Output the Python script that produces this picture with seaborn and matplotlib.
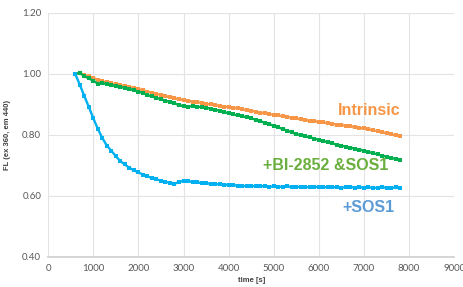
import matplotlib
matplotlib.use("Agg")
import matplotlib.pyplot as plt
import seaborn as sns
import pandas as pd

# sampling times (s), one reading every 100 s
time_s = list(range(600, 7900, 100))

intrinsic = [
    1.000, 1.003, 0.996, 0.992, 0.987, 0.981, 0.976, 0.972, 0.969, 0.966,
    0.963, 0.960, 0.957, 0.954, 0.950, 0.946, 0.942, 0.938, 0.934, 0.931,
    0.927, 0.924, 0.920, 0.917, 0.915, 0.912, 0.909, 0.907, 0.905, 0.902,
    0.900, 0.898, 0.895, 0.893, 0.891, 0.889, 0.887, 0.884, 0.881, 0.879,
    0.876, 0.873, 0.871, 0.868, 0.866, 0.864, 0.861, 0.859, 0.856, 0.854,
    0.851, 0.849, 0.846, 0.845, 0.843, 0.841, 0.838, 0.836, 0.834, 0.832,
    0.830, 0.828, 0.826, 0.823, 0.821, 0.818, 0.815, 0.812, 0.809, 0.805,
    0.802, 0.798, 0.795,
]

bi2852_sos1 = [
    1.000, 1.003, 0.993, 0.985, 0.978, 0.968, 0.970, 0.966, 0.963, 0.960,
    0.957, 0.954, 0.951, 0.946, 0.942, 0.937, 0.931, 0.926, 0.921, 0.917,
    0.912, 0.908, 0.903, 0.898, 0.894, 0.893, 0.894, 0.893, 0.891, 0.889,
    0.886, 0.883, 0.879, 0.875, 0.871, 0.867, 0.864, 0.861, 0.858, 0.854,
    0.850, 0.845, 0.840, 0.835, 0.830, 0.825, 0.819, 0.814, 0.808, 0.803,
    0.799, 0.795, 0.792, 0.788, 0.784, 0.780, 0.776, 0.772, 0.768, 0.765,
    0.761, 0.758, 0.755, 0.752, 0.748, 0.744, 0.740, 0.736, 0.732, 0.729,
    0.725, 0.721, 0.718,
]

sos1 = [
    1.000, 0.965, 0.928, 0.892, 0.855, 0.820, 0.790, 0.765, 0.748, 0.730,
    0.714, 0.703, 0.692, 0.684, 0.677, 0.670, 0.664, 0.659, 0.654, 0.650,
    0.646, 0.643, 0.640, 0.645, 0.650, 0.648, 0.646, 0.644, 0.642, 0.641,
    0.640, 0.639, 0.638, 0.637, 0.636, 0.635, 0.634, 0.633, 0.632, 0.633,
    0.631, 0.631, 0.632, 0.630, 0.631, 0.630, 0.630, 0.631, 0.629, 0.630,
    0.629, 0.630, 0.628, 0.630, 0.629, 0.628, 0.629, 0.628, 0.629, 0.627,
    0.628, 0.629, 0.627, 0.628, 0.627, 0.628, 0.627, 0.626, 0.628, 0.627,
    0.626, 0.628, 0.627,
]

series_names = ["Intrinsic", "+BI-2852 &SOS1", "+SOS1"]
line_colors = ["#F79646", "#00B050", "#00B0F0"]
label_colors = ["#F79646", "#6AAF3D", "#5B9BD5"]
# label anchor (time, FL), right aligned
label_pos = [(7820, 0.879), (7540, 0.698), (7680, 0.561)]

df = pd.concat([
    pd.DataFrame({"time": time_s, "FL": vals, "series": name})
    for name, vals in zip(series_names, [intrinsic, bi2852_sos1, sos1])
])

sns.set_theme(style="white")
plt.rcParams["font.family"] = ["Liberation Sans", "DejaVu Sans"]

fig, ax = plt.subplots(figsize=(4.63, 2.87), dpi=100)
fig.subplots_adjust(left=0.104, right=0.981, top=0.955, bottom=0.105)

sns.lineplot(
    data=df, x="time", y="FL", hue="series", hue_order=series_names,
    palette=dict(zip(series_names, line_colors)),
    marker="s", markersize=2.4, markeredgewidth=0, linewidth=1.7,
    legend=False, ax=ax, zorder=3,
)

for name, col, (tx, ty) in zip(series_names, label_colors, label_pos):
    ax.text(tx, ty, name, color=col, fontsize=11.5, fontweight="bold",
            ha="right", va="center")

ax.set_xlim(0, 9000)
ax.set_ylim(0.40, 1.20)
ax.set_xticks(range(0, 9001, 1000))
ax.set_yticks([0.40, 0.60, 0.80, 1.00, 1.20])
ax.set_yticklabels(["0.40", "0.60", "0.80", "1.00", "1.20"])
ax.grid(True, color="#E3E3E3", linewidth=0.8)
ax.set_axisbelow(True)
for side in ["top", "right", "left"]:
    ax.spines[side].set_visible(False)
ax.spines["bottom"].set_color("#D0D0D0")
ax.tick_params(axis="both", labelsize=7, colors="#595959", length=0, pad=5)
for lab in ax.get_xticklabels() + ax.get_yticklabels():
    lab.set_family(["Lato", "DejaVu Sans"])

ax.set_xlabel("time [s]", fontsize=5.5, fontweight="bold", color="#404040", labelpad=3)
ax.set_ylabel("FL (ex 360, em 440)", fontsize=5.5, fontweight="bold", color="#404040", labelpad=8)

fig.savefig("out.png", dpi=100)
